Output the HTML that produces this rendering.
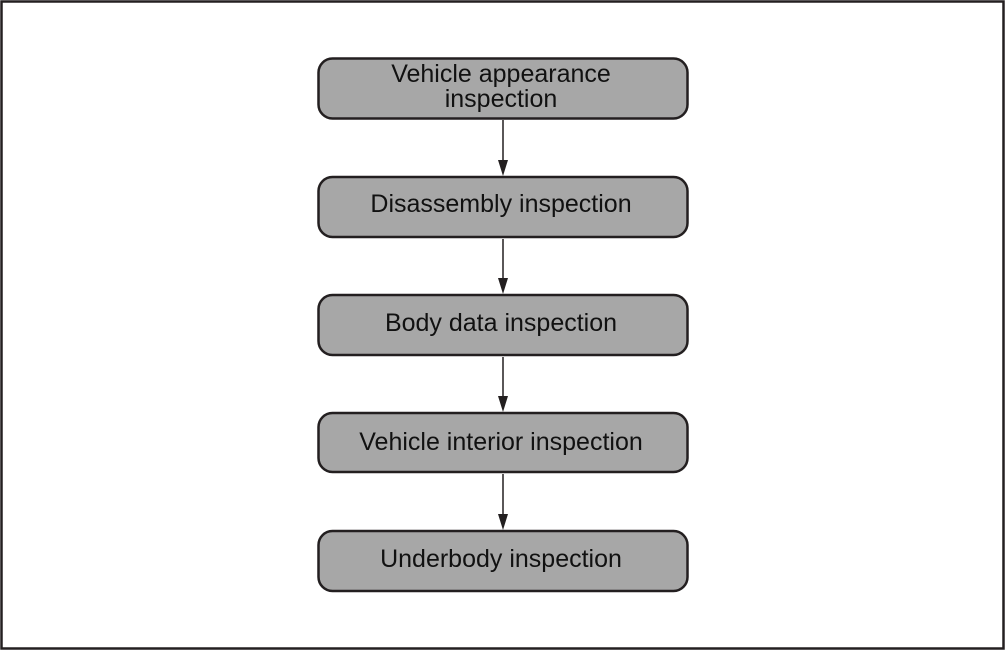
<!DOCTYPE html>
<html><head><style>
html,body{margin:0;padding:0;background:#fff}
</style></head><body>
<svg width="1005" height="650" xmlns="http://www.w3.org/2000/svg" style="display:block">
<rect x="1.5" y="1.5" width="1002" height="647" fill="#fff" stroke="#231f20" stroke-width="2.5"/>
<g fill="#a7a7a7" stroke="#231f20" stroke-width="2.5">
<rect x="318.5" y="58.5" width="369" height="60" rx="14"/>
<rect x="318.5" y="177" width="369" height="60" rx="14"/>
<rect x="318.5" y="295" width="369" height="60" rx="14"/>
<rect x="318.5" y="413" width="369" height="59" rx="14"/>
<rect x="318.5" y="531" width="369" height="60" rx="14"/>
</g>
<g stroke="#231f20" stroke-width="1.5">
<line x1="503" y1="120" x2="503" y2="162"/>
<line x1="503" y1="239" x2="503" y2="280"/>
<line x1="503" y1="357" x2="503" y2="398"/>
<line x1="503" y1="474" x2="503" y2="516"/>
</g>
<g fill="#231f20">
<polygon points="498,160 508,160 503,176"/>
<polygon points="498,278 508,278 503,294"/>
<polygon points="498,396 508,396 503,412"/>
<polygon points="498,514 508,514 503,530"/>
</g>
<g font-family="Liberation Sans, sans-serif" font-size="25" fill="#111" text-anchor="middle">
<text x="501" y="82">Vehicle appearance</text>
<text x="501" y="107">inspection</text>
<text x="501" y="212">Disassembly inspection</text>
<text x="501" y="331">Body data inspection</text>
<text x="501" y="450">Vehicle interior inspection</text>
<text x="501" y="567">Underbody inspection</text>
</g>
</svg>
</body></html>
